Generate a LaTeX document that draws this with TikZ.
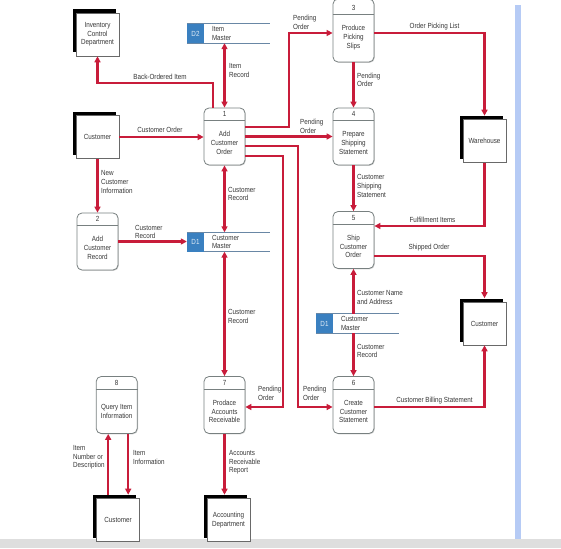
\documentclass[tikz,border=0pt]{standalone}
\usepackage{fontspec}
\setmainfont{Liberation Sans}[FakeStretch=0.85]
\usetikzlibrary{arrows.meta,shadows}
\definecolor{myred}{RGB}{200,28,58}
\definecolor{procgray}{RGB}{120,128,128}
\definecolor{entgray}{RGB}{105,105,105}
\definecolor{txtgray}{RGB}{55,55,55}
\definecolor{storeblue}{RGB}{58,128,192}
\definecolor{storeline}{RGB}{105,135,165}
\definecolor{barblue}{RGB}{182,203,245}
\definecolor{bandgray}{RGB}{222,222,222}
\newcommand\lblfont{\fontsize{7.4}{8.7}\selectfont}
\tikzset{
  arr/.style={draw=myred, line width=2.4pt, -{Triangle[length=6pt,width=6pt]}},
  both/.style={draw=myred, line width=2.4pt, {Triangle[length=6pt,width=6pt]}-{Triangle[length=6pt,width=6pt]}},
  proc/.style={draw=procgray, line width=0.8pt, rounded corners=5pt, minimum width=41pt, minimum height=57pt, inner sep=0pt, fill=white,
    general shadow={fill=gray!35, shadow xshift=0.8pt, shadow yshift=-0.8pt}},
  hdr/.style={draw=procgray, line width=0.6pt},
  ptext/.style={font=\lblfont, text=txtgray, inner sep=0pt, align=center},
  ent/.style={draw=entgray, line width=0.6pt, fill=white, minimum width=43pt, minimum height=43pt, inner sep=0pt,
    font=\lblfont, text=txtgray, align=center,
    general shadow={fill=black, shadow xshift=-3.5pt, shadow yshift=3.5pt}},
  lbl/.style={font=\lblfont, text=txtgray, inner sep=0pt, align=left},
  storebox/.style={minimum width=83pt, minimum height=19pt, inner sep=0pt},
  sline/.style={draw=storeline, line width=0.8pt},
  storeid/.style={fill=storeblue, minimum width=17pt, minimum height=19pt, inner sep=0pt, text=white!85!storeblue, font=\lblfont},
}
\newcommand\dfdproc[5]{%
  \node[proc] (#1) at (#2,#3) {};
  \draw[hdr] ([yshift=-13pt]#1.north west) -- ([yshift=-13pt]#1.north east);
  \node[ptext] (#1num) at ([yshift=-6.5pt]#1.north) {#4};
  \node[ptext] (#1txt) at ([yshift=-6.5pt]#1.center) {#5};
}
\newcommand\dfdstore[5]{%
  \node[storebox] (#1) at (#2,#3) {};
  \draw[sline] (#1.north west) -- (#1.north east);
  \draw[sline] (#1.south west) -- (#1.south east);
  \node[storeid, anchor=west] (#1id) at (#1.west) {#4};
  \node[lbl, anchor=west] (#1txt) at ([xshift=25pt]#1.west) {#5};
}
\begin{document}
\begin{tikzpicture}[x=1pt,y=-1pt]
\useasboundingbox (0,0) rectangle (561,548);
\fill[white] (0,0) rectangle (561,548);
\fill[barblue] (515,5) rectangle (521,539);
\fill[bandgray] (0,539) rectangle (561,548);

% processes
\dfdproc{p1}{224.5}{136.5}{1}{Add\\Customer\\Order}
\node[proc, minimum height=63pt] (p3) at (353.5,30.5) {};
\draw[hdr] ([yshift=-16pt]p3.north west) -- ([yshift=-16pt]p3.north east);
\node[ptext] (p3num) at ([yshift=-9.5pt]p3.north) {3};
\node[ptext] (p3txt) at ([yshift=-7pt]p3.center) {Produce\\Picking\\Slips};
\dfdproc{p4}{353.5}{136.5}{4}{Prepare\\Shipping\\Statement}
\dfdproc{p5}{353.5}{240}{5}{Ship\\Customer\\Order}
\dfdproc{p6}{353.5}{405}{6}{Create\\Customer\\Statement}
\dfdproc{p7}{224.5}{405}{7}{Prodace\\Accounts\\Receivable}
\dfdproc{p8}{116.7}{405}{8}{Query Item\\Information}
\dfdproc{p2}{97.5}{241.5}{2}{Add\\Customer\\Record}

% external entities
\node[ent] (icd) at (97.5,34.5) {Inventory\\Control\\Department};
\node[ent] (custL) at (97.5,137) {Customer};
\node[ent] (wh) at (484.5,141) {Warehouse};
\node[ent] (custR) at (484.5,323.5) {Customer};
\node[ent] (custB) at (118,520) {Customer};
\node[ent] (acct) at (228.5,520) {Accounting\\Department};

% data stores
\dfdstore{d2}{228.5}{33.5}{D2}{Item\\Master}
\dfdstore{d1m}{228.5}{242}{D1}{Customer\\Master}
\dfdstore{d1r}{357.5}{323.5}{D1}{Customer\\Master}

% helper coordinates
\coordinate (bo) at (97.5,83);
\coordinate (c13) at (289,33);
\coordinate (c16) at (298,407);
\coordinate (c17) at (283,407);
\coordinate (fi) at (484.5,226);
\coordinate (so) at (484.5,256);
\coordinate (cb) at (484.5,407);
\coordinate (whTop) at ([yshift=3.5pt]wh.north);
\coordinate (custRTop) at ([yshift=3.5pt]custR.north);
\coordinate (acctTop) at ([yshift=3.5pt]acct.north);
\coordinate (cbTop) at ([yshift=3.5pt]custB.north);
\coordinate (q1) at ([xshift=-8.5pt]p8.south);
\coordinate (q2) at ([xshift=11.5pt]p8.south);
\coordinate (bostart) at ([xshift=-11.5pt]p1.north);

% connectors
\draw[arr] (custL.east) -- (custL.east -| p1.west);
\draw[arr] (bostart) |- (bo) -- (icd.south);
\draw[both] (p1.north) -- (p1.north |- d2.south);
\draw[arr] ([yshift=9.5pt]p1.east) -| (c13) -- (c13 -| p3.west);
\draw[arr] (p1.east) -- (p4.west);
\draw[arr] ([yshift=-9.5pt]p1.east) -| (c16) -- (c16 -| p6.west);
\draw[arr] ([yshift=-19.5pt]p1.east) -| (c17) -- (c17 -| p7.east);
\draw[arr] (c13 -| p3.east) -| (whTop);
\draw[arr] (p3.south) -- (p4.north);
\draw[arr] (p4.south) -- (p5.north);
\draw[arr] (wh.south) -- (fi) -- (fi -| p5.east);
\draw[arr] (so -| p5.east) -- (so) -- (custRTop);
\draw[arr] (d1r.north -| p5.south) -- (p5.south);
\draw[arr] (d1r.south -| p6.north) -- (p6.north);
\draw[arr] (cb -| p6.east) -- (cb) -- (custR.south);
\draw[arr] (custL.south) -- (p2.north);
\draw[arr] (p2.east) -- (p2.east -| d1m.west);
\draw[both] (p1.south) -- (p1.south |- d1m.north);
\draw[both] (p7.north |- d1m.south) -- (p7.north);
\draw[arr] (p7.south) -- (p7.south |- acctTop);
\draw[arr] (q1 |- cbTop) -- (q1);
\draw[arr] (q2) -- (q2 |- cbTop);

% labels
\node[lbl] (l1) at (160,130) {Customer Order};
\node[lbl] (l2) at (160,77) {Back-Ordered Item};
\node[lbl, anchor=west] (l3) at (229,70.5) {Item\\Record};
\node[lbl, anchor=west] (l4) at (293,22.5) {Pending\\Order};
\node[lbl] (l5) at (434.5,27) {Order Picking List};
\node[lbl, anchor=west] (l6) at (357,80) {Pending\\Order};
\node[lbl, anchor=west] (l7) at (300,126.5) {Pending\\Order};
\node[lbl, anchor=west] (l8) at (357,186) {Customer\\Shipping\\Statement};
\node[lbl] (l9) at (432.5,220) {Fulfillment Items};
\node[lbl] (l10) at (429,248) {Shipped Order};
\node[lbl, anchor=west] (l11) at (357,297.5) {Customer Name\\and Address};
\node[lbl, anchor=west] (l12) at (357,351) {Customer\\Record};
\node[lbl] (l13) at (434.5,401) {Customer Billing Statement};
\node[lbl, anchor=west] (l14) at (303,393.5) {Pending\\Order};
\node[lbl, anchor=west] (l15) at (258,393.5) {Pending\\Order};
\node[lbl, anchor=west] (l16) at (101,182) {New\\Customer\\Information};
\node[lbl, anchor=west] (l17) at (135,232) {Customer\\Record};
\node[lbl, anchor=west] (l18) at (228,194) {Customer\\Record};
\node[lbl, anchor=west] (l19) at (228,316.5) {Customer\\Record};
\node[lbl, anchor=west] (l20) at (229,462.5) {Accounts\\Receivable\\Report};
\node[lbl, anchor=west] (l21) at (73,457.5) {Item\\Number or\\Description};
\node[lbl, anchor=west] (l22) at (133,457.5) {Item\\Information};
\end{tikzpicture}
\end{document}
